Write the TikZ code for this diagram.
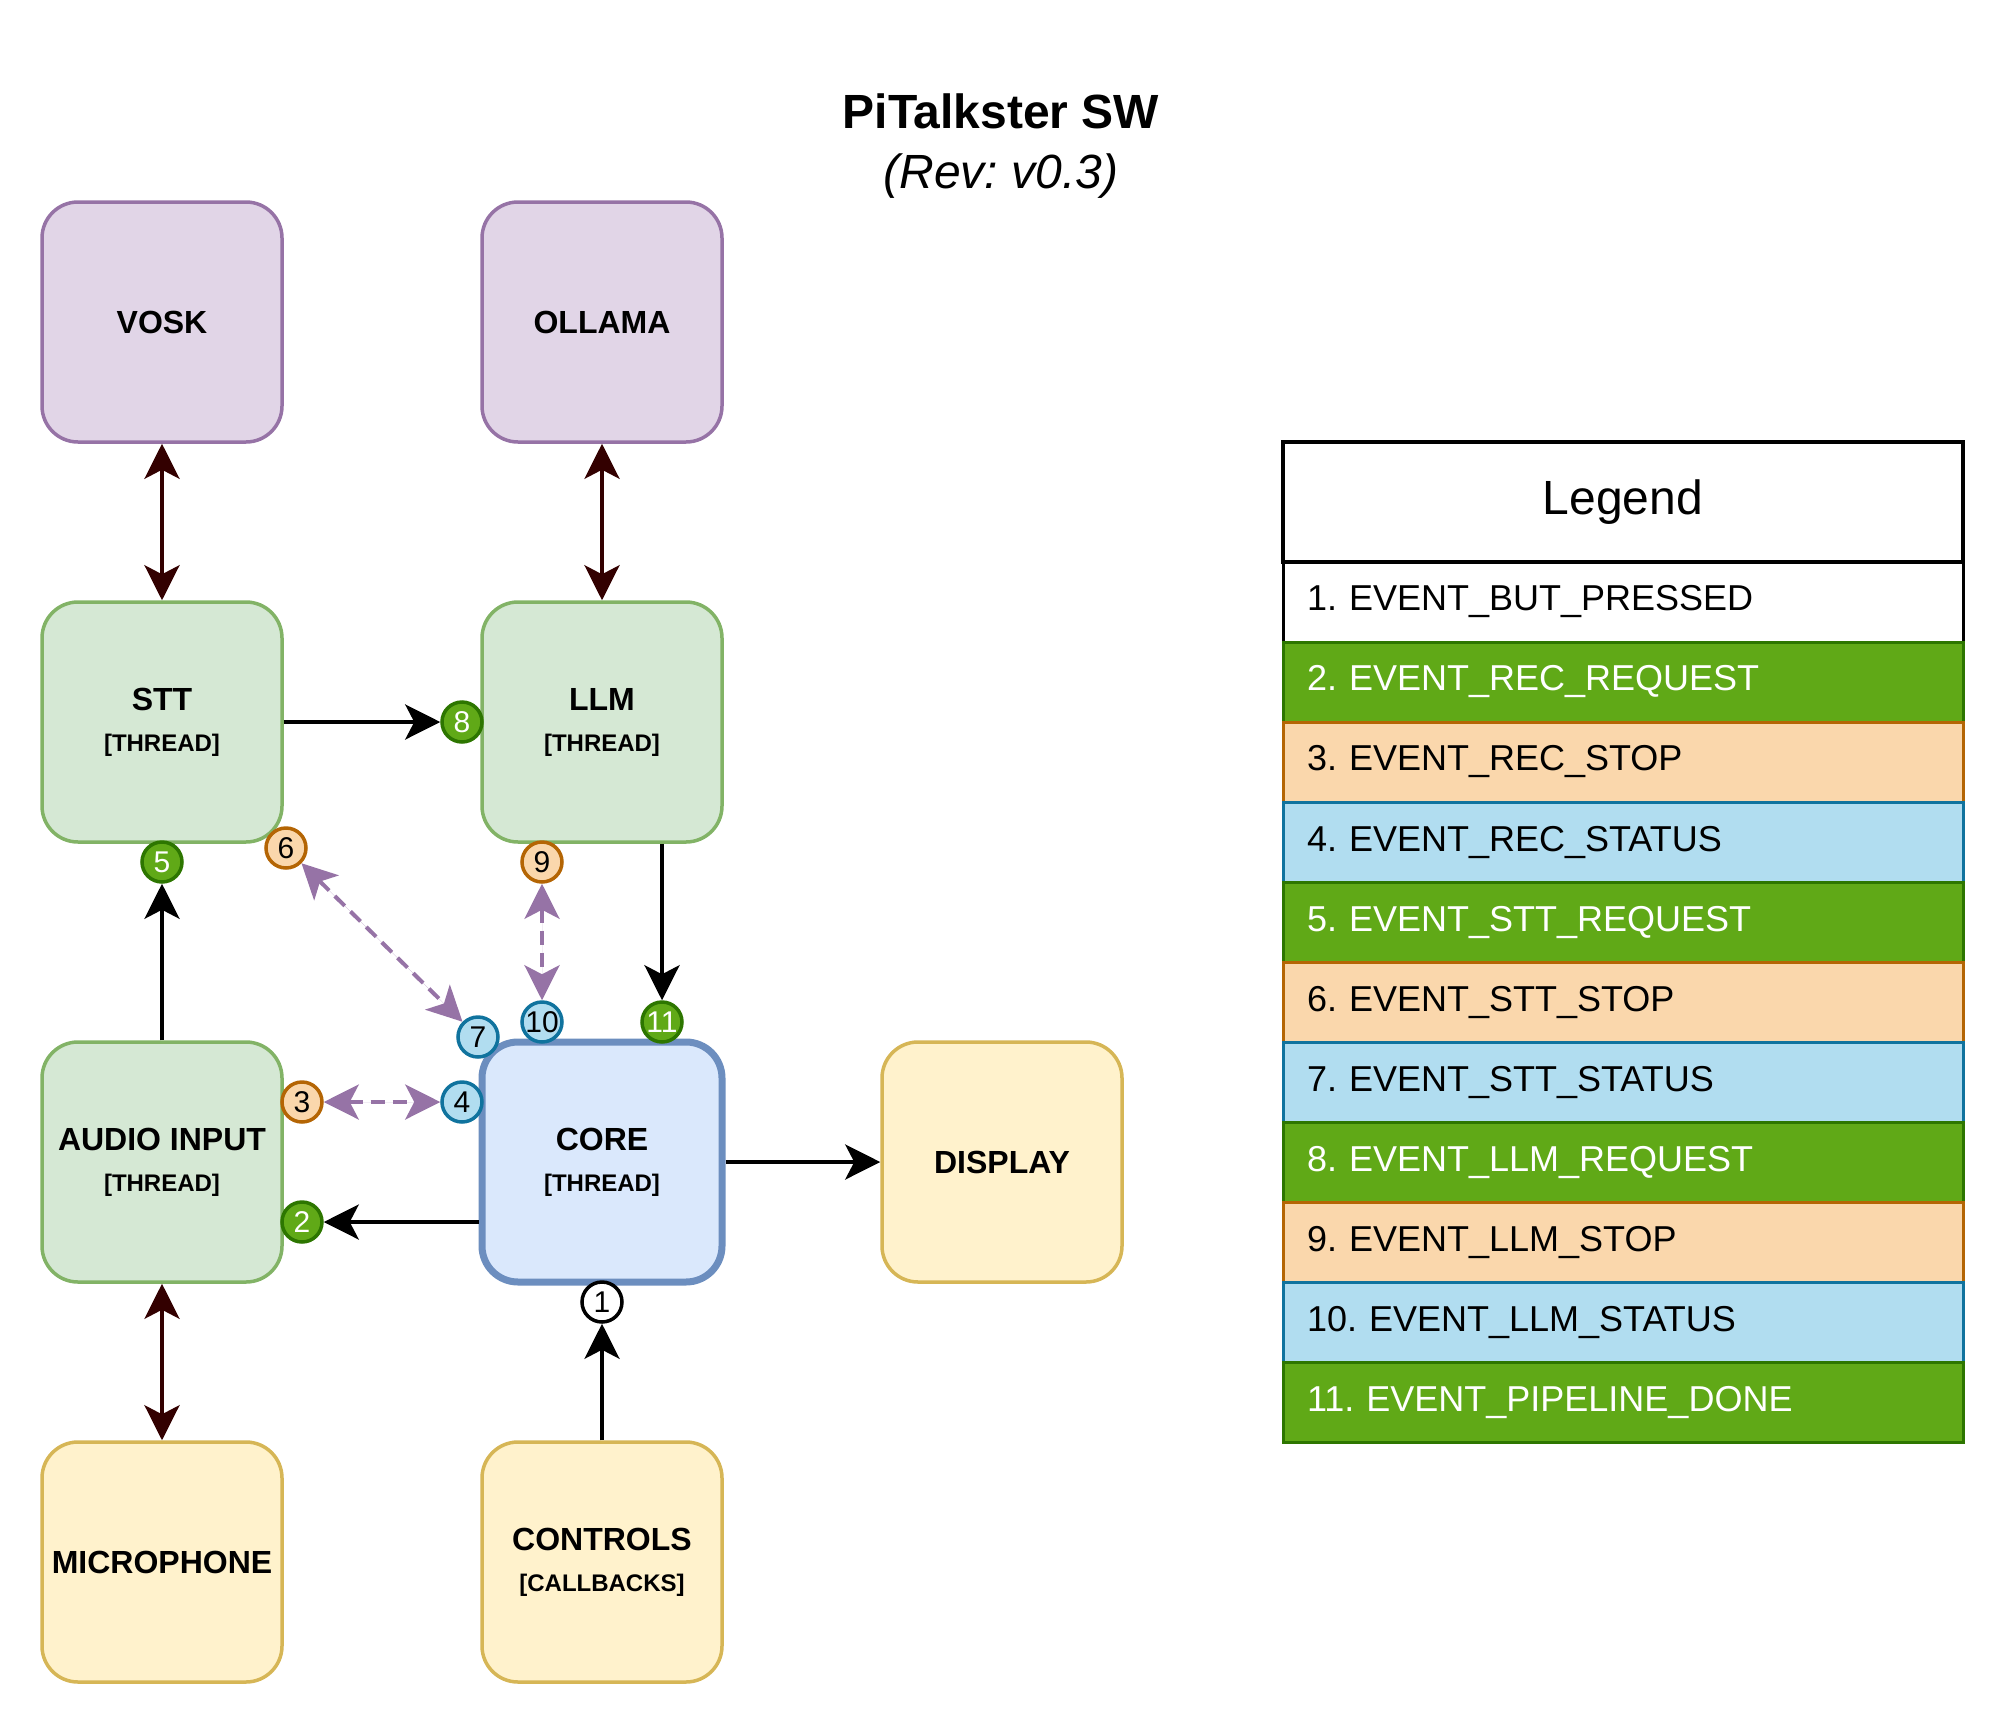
\documentclass[tikz,border=0pt]{standalone}
\usepackage{fontspec}
\setmainfont{Liberation Sans}
\usetikzlibrary{arrows.meta}
\definecolor{purfill}{HTML}{E1D5E7}
\definecolor{purdraw}{HTML}{9673A6}
\definecolor{grnfill}{HTML}{D5E8D4}
\definecolor{grndraw}{HTML}{82B366}
\definecolor{blufill}{HTML}{DAE8FC}
\definecolor{bludraw}{HTML}{6C8EBF}
\definecolor{yelfill}{HTML}{FFF2CC}
\definecolor{yeldraw}{HTML}{D6B656}
\definecolor{evgfill}{HTML}{60A917}
\definecolor{evgdraw}{HTML}{2D7600}
\definecolor{evofill}{HTML}{FAD7AC}
\definecolor{evodraw}{HTML}{B46504}
\definecolor{evbfill}{HTML}{B1DDF0}
\definecolor{evbdraw}{HTML}{10739E}
\definecolor{darkred}{HTML}{330000}
\newcommand{\thr}[1]{{\fontsize{12}{20.5}\selectfont #1}}
\frenchspacing
\begin{document}
\begin{tikzpicture}[x=0.5pt,y=-0.5pt,
  box/.style={draw, rounded corners=18pt, minimum width=120pt, minimum height=120pt,
    inner sep=0pt, line width=1.75pt, align=center, font=\fontsize{16}{20.5}\selectfont\bfseries},
  purbox/.style={box, fill=purfill, draw=purdraw},
  grnbox/.style={box, fill=grnfill, draw=grndraw},
  blubox/.style={box, fill=blufill, draw=bludraw, line width=3.5pt},
  yelbox/.style={box, fill=yelfill, draw=yeldraw},
  circ/.style={circle, draw, minimum size=20pt, inner sep=0pt, line width=1.75pt,
    font=\fontsize{15}{16}\selectfont},
  cg/.style={circ, fill=evgfill, draw=evgdraw, text=white},
  co/.style={circ, fill=evofill, draw=evodraw},
  cb/.style={circ, fill=evbfill, draw=evbdraw},
  cw/.style={circ, fill=white, draw=black},
  tip/.tip={Stealth[length=17.5pt,width=17.5pt,inset=4.5pt]},
  conn/.style={line width=2pt, -tip},
  datalink/.style={line width=2pt, draw=darkred, fill=darkred, tip-tip},
  evlink/.style={line width=2pt, draw=purdraw, fill=purdraw, dash pattern=on 7pt off 4pt, tip-tip},
  lrow/.style={draw, line width=1.5pt, minimum width=340pt, minimum height=40pt,
    text width=316pt, inner xsep=12pt, inner ysep=0pt, align=left,
    font=\fontsize{18}{21}\selectfont},
  lg/.style={lrow, fill=evgfill, draw=evgdraw, text=white},
  lo/.style={lrow, fill=evofill, draw=evodraw},
  lb/.style={lrow, fill=evbfill, draw=evbdraw},
  lw/.style={lrow, fill=white, draw=black}
]
\useasboundingbox (0,0) rectangle (2008,1724);

% title
\node[anchor=base, font=\fontsize{24}{28}\selectfont\bfseries] (title) at (1001,128) {PiTalkster SW};
\node[anchor=base, font=\fontsize{24}{28}\selectfont\itshape] (rev) at (1001,188) {(Rev: v0.3)};

% boxes
\node[purbox] (vosk) at (162,322) {VOSK};
\node[purbox] (ollama) at (602,322) {OLLAMA};
\node[grnbox] (stt) at (162,722) {STT\\\thr{[THREAD]}};
\node[grnbox] (llm) at (602,722) {LLM\\\thr{[THREAD]}};
\node[grnbox] (audio) at (162,1162) {AUDIO INPUT\\\thr{[THREAD]}};
\node[blubox] (core) at (602,1162) {CORE\\\thr{[THREAD]}};
\node[yelbox] (display) at (1002,1162) {DISPLAY};
\node[yelbox] (mic) at (162,1562) {MICROPHONE};
\node[yelbox] (controls) at (602,1562) {CONTROLS\\\thr{[CALLBACKS]}};

% event circles
\node[cw] (c1) at (602,1302) {1};
\node[cg] (c2) at (302,1222) {2};
\node[co] (c3) at (302,1102) {3};
\node[cb] (c4) at (462,1102) {4};
\node[cg] (c5) at (162,862) {5};
\node[co] (c6) at (286,848) {6};
\node[cb] (c7) at (478,1037) {7};
\node[cg] (c8) at (462,722) {8};
\node[co] (c9) at (542,862) {9};
\node[cb] (c10) at (542,1022) {10};
\node[cg] (c11) at (662,1022) {11};

% connectors
\draw[datalink] (vosk.south) -- (stt.north);
\draw[datalink] (ollama.south) -- (llm.north);
\draw[datalink] (audio.south) -- (mic.north);
\draw[conn] (stt.east) -- (c8.west);
\draw[conn] (audio.north) -- (c5.south);
\draw[conn] (llm.south -| c11) -- (c11.north);
\draw[conn] (core.west |- c2) -- (c2.east);
\draw[conn] (core.east) -- (display.west);
\draw[conn] (controls.north) -- (c1.south);
\draw[evlink] (c6) -- (c7);
\draw[evlink] (c9.south) -- (c10.north);
\draw[evlink] (c3.east) -- (c4.west);

% legend
\node[draw=black, fill=white, line width=1.75pt, minimum width=340pt, minimum height=60pt,
  inner sep=0pt, font=\fontsize{24}{28}\selectfont] (lhead) at (1623,502) {Legend};
\node[lw] (l1) at (1623,602) {1. EVENT\_BUT\_PRESSED};
\node[lg] (l2) at (1623,682) {2. EVENT\_REC\_REQUEST};
\node[lo] (l3) at (1623,762) {3. EVENT\_REC\_STOP};
\node[lb] (l4) at (1623,842) {4. EVENT\_REC\_STATUS};
\node[lg] (l5) at (1623,922) {5. EVENT\_STT\_REQUEST};
\node[lo] (l6) at (1623,1002) {6. EVENT\_STT\_STOP};
\node[lb] (l7) at (1623,1082) {7. EVENT\_STT\_STATUS};
\node[lg] (l8) at (1623,1162) {8. EVENT\_LLM\_REQUEST};
\node[lo] (l9) at (1623,1242) {9. EVENT\_LLM\_STOP};
\node[lb] (l10) at (1623,1322) {10. EVENT\_LLM\_STATUS};
\node[lg] (l11) at (1623,1402) {11. EVENT\_PIPELINE\_DONE};
\end{tikzpicture}
\end{document}
